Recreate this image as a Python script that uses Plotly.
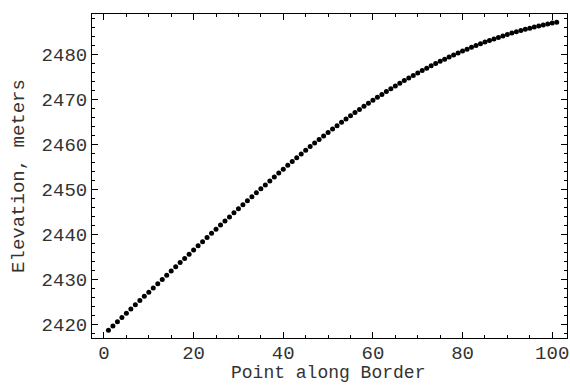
import plotly.graph_objects as go

point = list(range(1, 102))
elevation = [
    2418.70, 2419.65, 2420.59, 2421.53, 2422.48, 2423.42, 2424.36, 2425.30, 2426.24, 2427.18,
    2428.12, 2429.05, 2429.99, 2430.93, 2431.86, 2432.80, 2433.73, 2434.66, 2435.59, 2436.53,
    2437.46, 2438.38, 2439.30, 2440.22, 2441.14, 2442.05, 2442.96, 2443.87, 2444.77, 2445.67,
    2446.56, 2447.45, 2448.34, 2449.22, 2450.10, 2450.98, 2451.86, 2452.73, 2453.59, 2454.46,
    2455.32, 2456.17, 2457.01, 2457.84, 2458.66, 2459.47, 2460.27, 2461.06, 2461.84, 2462.61,
    2463.37, 2464.12, 2464.86, 2465.59, 2466.31, 2467.02, 2467.72, 2468.41, 2469.09, 2469.76,
    2470.42, 2471.06, 2471.70, 2472.32, 2472.94, 2473.54, 2474.12, 2474.70, 2475.26, 2475.82,
    2476.36, 2476.88, 2477.40, 2477.90, 2478.40, 2478.88, 2479.34, 2479.80, 2480.24, 2480.68,
    2481.10, 2481.50, 2481.90, 2482.29, 2482.66, 2483.02, 2483.37, 2483.71, 2484.04, 2484.36,
    2484.66, 2484.95, 2485.24, 2485.51, 2485.76, 2486.01, 2486.25, 2486.47, 2486.68, 2486.89,
    2487.08,
]
x_ticks = [0, 20, 40, 60, 80, 100]
y_ticks = [2420, 2430, 2440, 2450, 2460, 2470, 2480]
x_title = "Point along Border"
y_title = "Elevation, meters"

FONT = "Courier New, Liberation Mono, monospace"

fig = go.Figure()
fig.add_trace(go.Scatter(
    x=point, y=elevation, mode="markers",
    marker=dict(color="black", size=5, line=dict(width=0)),
))

axis_common = dict(
    showgrid=False, zeroline=False, showline=True, linecolor="black", linewidth=1,
    mirror="allticks", ticks="inside", ticklen=6, tickwidth=1, tickcolor="black",
    tickfont=dict(family=FONT, size=19, color="#333333"),
    ticklabeloverflow="allow",
)

fig.update_layout(
    width=570, height=385,
    margin=dict(l=92, r=1, t=14, b=47),
    paper_bgcolor="white", plot_bgcolor="white",
    showlegend=False,
    xaxis=dict(
        range=[-2.67, 103.3], tickvals=x_ticks, ticklabelstandoff=-3,
        minor=dict(dtick=5, tick0=0, ticks="inside", ticklen=3, tickcolor="black", showgrid=False),
        **axis_common,
    ),
    yaxis=dict(
        range=[2417.0, 2488.9], tickvals=y_ticks,
        minor=dict(dtick=2, tick0=2420, ticks="inside", ticklen=3, tickcolor="black", showgrid=False),
        title=dict(text=y_title, font=dict(family=FONT, size=19, color="#333333"), standoff=11),
        **axis_common,
    ),
    annotations=[dict(
        text=x_title, xref="x", yref="paper", x=50, y=-0.143,
        xanchor="center", yanchor="bottom", showarrow=False, borderpad=0,
        font=dict(family=FONT, size=18, color="#333333"),
    )],
)

fig.write_html("out.html")
